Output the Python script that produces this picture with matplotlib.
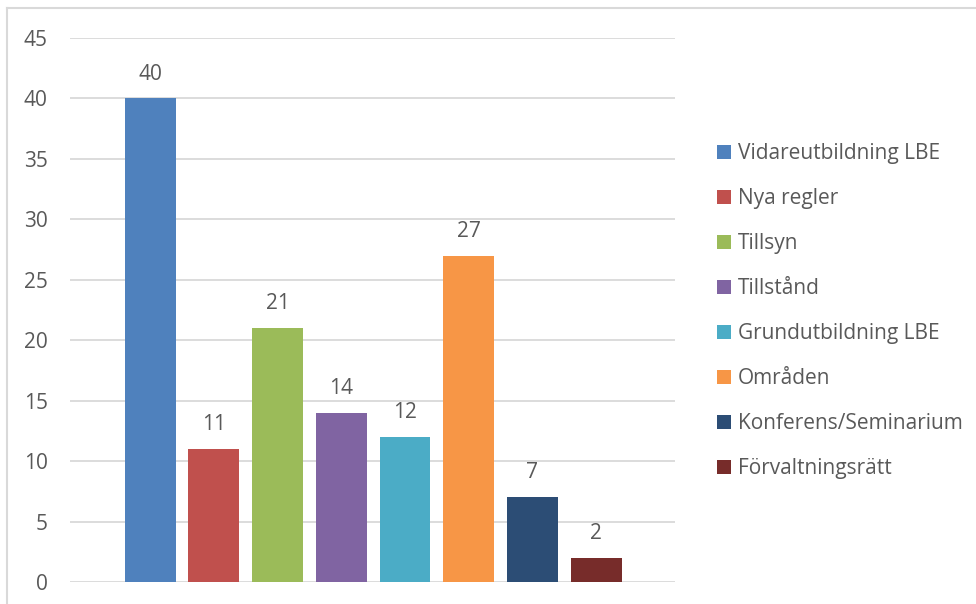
import matplotlib.pyplot as plt
from matplotlib.lines import Line2D

categories = ["Vidareutbildning LBE", "Nya regler", "Tillsyn", "Tillstånd",
              "Grundutbildning LBE", "Områden", "Konferens/Seminarium",
              "Förvaltningsrätt"]
values = [40, 11, 21, 14, 12, 27, 7, 2]
colors = ["#4f81bd", "#c0504d", "#9bbb59", "#8064a2",
          "#4bacc6", "#f79646", "#2c4d75", "#772c2a"]
yticks = [0, 5, 10, 15, 20, 25, 30, 35, 40, 45]

text_color = "#595959"
plt.rcParams["font.family"] = ["Open Sans", "DejaVu Sans"]


def main():
    fig = plt.figure(figsize=(9.76, 6.04), dpi=100)
    ax = fig.add_axes([70 / 976, 1 - 582 / 604, 605 / 976, 544 / 604])

    x = list(range(len(values)))
    bars = ax.bar(x, values, width=0.8, color=colors, label=categories,
                  zorder=3)
    for b, v in zip(bars, values):
        ax.annotate(str(v), (b.get_x() + b.get_width() / 2, v),
                    xytext=(0, 10), textcoords="offset points",
                    ha="center", va="bottom", fontsize=15, color=text_color)

    ax.set_xlim(-1.26, 8.24)
    ax.set_ylim(0, 45)
    ax.set_yticks(yticks)
    ax.set_xticks([])
    ax.tick_params(axis="y", length=0, pad=16, labelsize=15,
                   labelcolor=text_color)
    ax.yaxis.grid(True, color="#d9d9d9", linewidth=1.3, zorder=0)
    for s in ax.spines.values():
        s.set_visible(False)

    leg = fig.legend(bars, categories, loc="upper left",
                     bbox_to_anchor=(709 / 976, 1 - 135 / 604),
                     frameon=False, fontsize=15, handlelength=0.67,
                     handleheight=0.67, handletextpad=0.3,
                     labelspacing=1.15, borderaxespad=0)
    for t in leg.get_texts():
        t.set_color(text_color)

    # outer chart border (left and top)
    fig.add_artist(Line2D([7 / 976, 7 / 976], [0, 1 - 8 / 604],
                          color="#d9d9d9", linewidth=1.5))
    fig.add_artist(Line2D([7 / 976, 1], [1 - 8 / 604, 1 - 8 / 604],
                          color="#d9d9d9", linewidth=1.5))

    fig.savefig("out.png", dpi=100)


if __name__ == "__main__":
    main()
